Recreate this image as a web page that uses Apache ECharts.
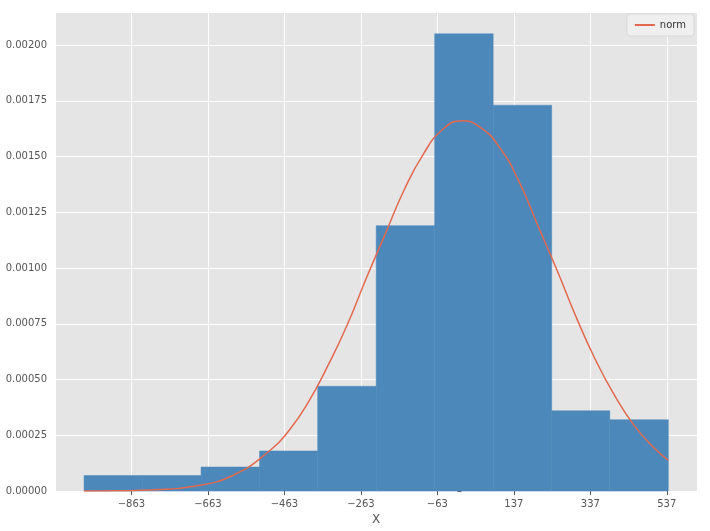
<!DOCTYPE html>
<html>
<head>
<meta charset="utf-8">
<script src="https://cdn.jsdelivr.net/npm/echarts@6/dist/echarts.min.js"></script>
<style>html,body{margin:0;padding:0;background:#fff;}#main{width:710px;height:531px;}</style>
</head>
<body>
<div id="main"></div>
<script>
// histogram bin edges and densities
var binEdges=[-987,-834,-681,-528,-376,-223,-70,83,236,388,541];
var binHeights=[0.00007,0.00007,0.000108,0.00018,0.00047,0.00119,0.00205,0.00173,0.00036,0.00032];
// fitted normal curve
var curveX=[-987,-900,-800,-700,-600,-500,-450,-400,-350,-300,-250,-200,-150,-100,-50,0,50,100,150,200,250,300,350,400,450,500,541];
var curveY=[0.0000003,0.0000014,0.0000061,0.000022,0.000069,0.000183,0.000274,0.0004,0.00056,0.00074,0.00095,0.00115,0.00135,0.00151,0.00162,0.00166,0.00163,0.00154,0.00139,0.00119,0.00099,0.00078,0.00059,0.00043,0.000298,0.0002,0.000138];

var bars=[];
for(var i=0;i<binHeights.length;i++){
	bars.push([binEdges[i],binEdges[i+1],binHeights[i]]);
}
var curve=[];
for(var j=0;j<curveX.length;j++){
	curve.push([curveX[j],curveY[j]]);
}

var chart=echarts.init(document.getElementById('main'));
var axisLbl={color:'#555',fontSize:10,fontFamily:'DejaVu Sans'};
chart.setOption({
	animation:false,
	grid:{left:55,right:13,top:12,bottom:39,show:true,backgroundColor:'#e5e5e5',borderWidth:0},
	legend:{
		data:[{name:'norm',icon:'rect'}],
		right:16,top:14,itemWidth:20,itemHeight:2,
		backgroundColor:'rgba(240,240,240,0.9)',borderColor:'#d8d8d8',borderWidth:1,borderRadius:3,
		padding:[6,8],textStyle:{color:'#333',fontSize:10,fontFamily:'DejaVu Sans'}
	},
	xAxis:{
		type:'value',min:-1063,max:616,interval:200,
		name:'X',nameLocation:'middle',nameGap:20,nameTextStyle:{color:'#555',fontSize:12,fontFamily:'DejaVu Sans'},
		axisLine:{show:false},
		axisTick:{show:true,length:4,lineStyle:{color:'#555'}},
		axisLabel:Object.assign({showMinLabel:false,showMaxLabel:false,formatter:function(v){return v<0?'\u2212'+(-v):v;}},axisLbl),
		splitLine:{show:true,lineStyle:{color:'#fff',width:1}}
	},
	yAxis:{
		type:'value',min:0,max:0.002148,interval:0.00025,
		axisLine:{show:false},
		axisTick:{show:true,length:4,lineStyle:{color:'#555'}},
		axisLabel:Object.assign({showMaxLabel:false,formatter:function(v){return v.toFixed(5);}},axisLbl),
		splitLine:{show:true,lineStyle:{color:'#fff',width:1}}
	},
	series:[
		{
			name:'hist',type:'custom',
			renderItem:function(params,api){
				var p0=api.coord([api.value(0),api.value(2)]);
				var p1=api.coord([api.value(1),0]);
				return {type:'rect',shape:{x:p0[0],y:p0[1],width:p1[0]-p0[0],height:p1[1]-p0[1]},
					style:{fill:'#4c88ba',stroke:'#4c88ba',lineWidth:0.5}};
			},
			encode:{x:[0,1],y:2},
			data:bars,z:2
		},
		{
			name:'norm',type:'line',data:curve,smooth:true,showSymbol:false,
			lineStyle:{color:'#e2694f',width:1.5},itemStyle:{color:'#e2694f'},z:3
		}
	]
});
</script>
</body>
</html>
